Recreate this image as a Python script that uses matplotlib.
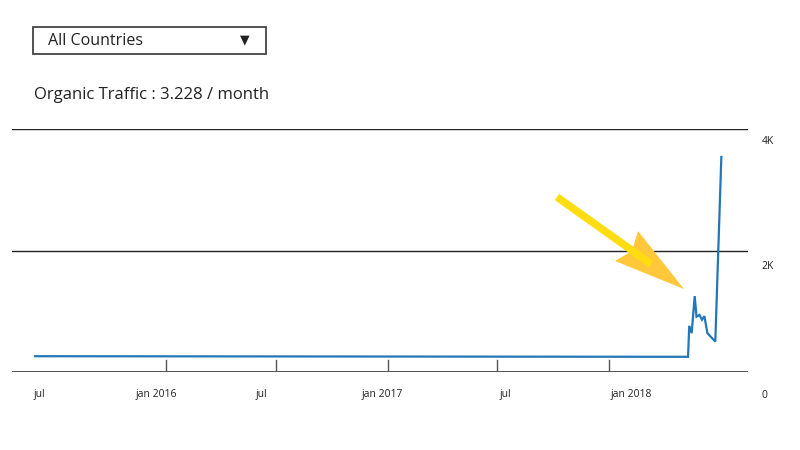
import numpy as np
import matplotlib
matplotlib.use('Agg')
import matplotlib.pyplot as plt
import matplotlib.dates as mdates
from matplotlib.patches import Rectangle, Polygon
from datetime import datetime

plt.rcParams['font.family'] = ['Open Sans', 'DejaVu Sans']

# data
dates = ['2015-05-30', '2018-05-12', '2018-05-14', '2018-05-18', '2018-05-23',
         '2018-05-26', '2018-05-31', '2018-06-04', '2018-06-08', '2018-06-11',
         '2018-06-13', '2018-06-26', '2018-07-06']
traffic = [260, 250, 760, 640, 1250, 910, 940, 860, 920, 750, 640, 500, 3540]

tick_dates = ['2016-01-01', '2016-07-01', '2017-01-01', '2017-07-01', '2018-01-01']
label_dates = ['2015-06-07', '2015-12-17', '2016-06-06', '2016-12-23', '2017-07-14', '2018-02-07']
label_text = ['jul', 'jan 2016', 'jul', 'jan 2017', 'jul', 'jan 2018']
y_levels = [0, 2000, 4000]
y_text = ['0', '2K', '4K']

title = 'Organic Traffic : 3.228 / month'
country = 'All Countries'

def d(s):
    return mdates.date2num(datetime.strptime(s, '%Y-%m-%d'))

x = [d(s) for s in dates]

fig = plt.figure(figsize=(8, 4.5), dpi=100)
ax = fig.add_axes([12/800, 78/450, 736/800, 243/450])
ax.plot(x, traffic, color='#2376b7', lw=1.6, solid_joinstyle='miter', zorder=3)
ax.set_xlim(d('2015-04-22'), d('2018-08-19'))
ax.set_ylim(0, 4000)

for v in y_levels:
    ax.axhline(v, color='#222222' if v else '#555555', lw=1.0 if v else 1.4, zorder=1)
# label offsets below each gridline (pixels)
y_off = {'0': (16, -23), '2K': (20, -16), '4K': (20, -12)}
for v, t in zip(y_levels, y_text):
    ax.annotate(t, xy=(1.0, v), xycoords=('axes fraction', 'data'),
                xytext=y_off[t], textcoords='offset pixels',
                ha='center', va='center', fontsize=7.5, color='#222222')

for t in tick_dates:
    ax.plot([d(t), d(t)], [0, 190], color='#555555', lw=1.0, zorder=2)
for t, s in zip(label_dates, label_text):
    ax.annotate(s, xy=(d(t), 0), xycoords=('data', 'axes fraction'),
                xytext=(0, -23), textcoords='offset pixels',
                ha='center', va='center', fontsize=7.5, color='#222222')

for sp in ax.spines.values():
    sp.set_visible(False)
ax.set_xticks([])
ax.set_yticks([])

# overlay in pixel coordinates for dropdown, title and arrow
ov = fig.add_axes([0, 0, 1, 1], facecolor='none')
ov.set_xlim(0, 800)
ov.set_ylim(450, 0)
ov.axis('off')
ov.add_patch(Rectangle((33, 27), 233, 27, fill=False, edgecolor='#444444', lw=1.3))
ov.text(48, 41, country, fontsize=11.5, va='center', ha='left', color='#222222')
ov.text(245, 40, '▼', fontsize=9, va='center', ha='center', color='#222222',
        family='DejaVu Sans')
ov.text(34, 95, title, fontsize=12, va='center', ha='left', color='#222222')

ov.add_patch(Polygon([(638, 231), (684, 289), (615, 261), (632, 251)], closed=True,
                     facecolor='#ffc83a', edgecolor='none', zorder=5))
ov.plot([557, 651], [197, 264], color='#ffdd10', lw=5.5, solid_capstyle='butt', zorder=6)

fig.savefig('out.png', dpi=100)
